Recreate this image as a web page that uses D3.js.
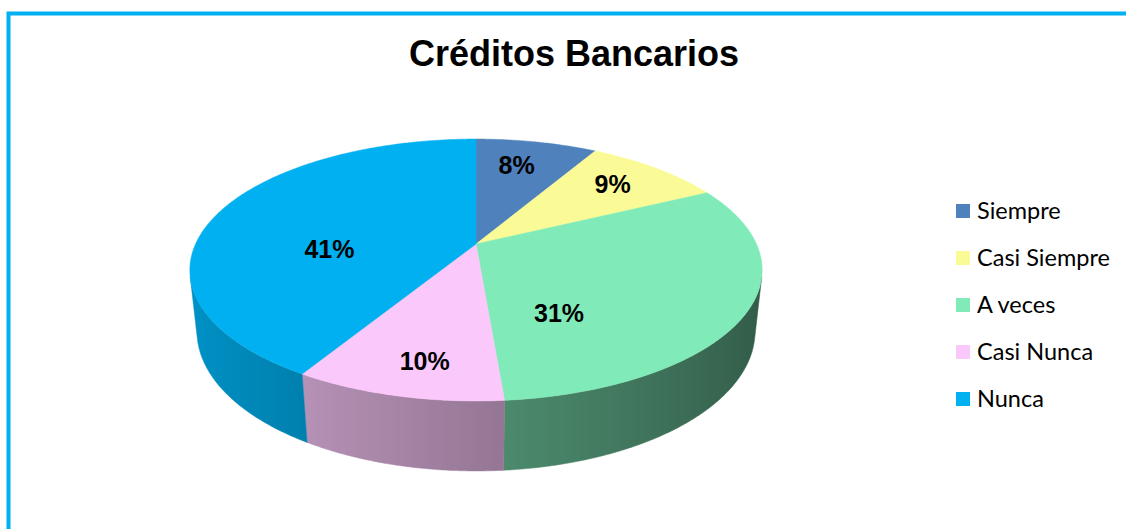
<!DOCTYPE html>
<html lang="es">
<head>
<meta charset="utf-8" />
<title>Créditos Bancarios</title>
<script src="https://cdn.jsdelivr.net/npm/d3@7"></script>
<style>
  body { margin:0; background:#fff; }
  svg { display:block; }
  .title { font-family:"Liberation Sans", Arial, sans-serif; font-weight:bold; font-size:36px; }
  .pct { font-family:"Liberation Sans", Arial, sans-serif; font-weight:bold; font-size:25px; }
  .legend text { font-family:Lato, "Open Sans", sans-serif; font-size:23.5px; fill:#000; }
</style>
</head>
<body>
<div id="chart"></div>
<script>
var categories = ["Siempre", "Casi Siempre", "A veces", "Casi Nunca", "Nunca"];
var shares = [8.3, 9.4, 31.0, 9.9, 41.4];
var colors = ["#4F81BD", "#FAFA96", "#80EAB8", "#FAC8FA", "#00B0F0"];
// where Excel put the % labels: shift from mid angle (deg), radius fraction
var labelNudge = [[-2, 0.74], [-1, 0.75], [32, 0.56], [-2, 0.8], [-20, 0.52]];

var width = 1126, height = 529;

var svg = d3.select("#chart").append("svg")
    .attr("width", width)
    .attr("height", height);
var defs = svg.append("defs");

// frame
svg.append("path")
    .attr("d", "M8.5," + height + "V13.5H" + width)
    .attr("fill", "none")
    .attr("stroke", "#00B0F0")
    .attr("stroke-width", 4);

svg.append("text")
    .attr("class", "title")
    .attr("x", 574)
    .attr("y", 66)
    .attr("text-anchor", "middle")
    .text("Créditos Bancarios");

// simple perspective camera looking down on the disc
var s = 0.4485, c = Math.sqrt(1 - s * s);
var D = 4.5, H = 0.246;
var x = d3.scaleLinear().domain([0, 1]).range([476, 476 + 1262]);
var y = d3.scaleLinear().domain([0, 1]).range([244, 244 - 1262]);

function proj(u, v, h) {
  var zc = D + v * c - h * s;
  return [x(u / zc), y((v * s + h * c) / zc)];
}
function rim(a, h, r) {
  r = r == null ? 1 : r;
  return proj(r * Math.sin(a), r * Math.cos(a), h);
}
function shade(col, a) {
  var f = 0.61 - 0.23 * Math.sin(a);
  var k = d3.rgb(col);
  return d3.rgb(k.r * f, k.g * f, k.b * f).toString();
}

var total = d3.sum(shares);
var pie = d3.pie().sort(null).value(function(d) { return d; });
var arcs = pie(shares);

var line = d3.line();
var phiMin = Math.acos(-1 / (D * c)), phiMax = 2 * Math.PI - phiMin;
var step = Math.PI / 360;

// side walls first, each with a left-right light gradient
var sides = svg.append("g");
arcs.forEach(function(d, i) {
  var lo = Math.max(d.startAngle, phiMin), hi = Math.min(d.endAngle, phiMax);
  if (lo >= hi) return;
  var n = Math.ceil((hi - lo) / step);
  var topPts = [], botPts = [], angs = [];
  for (var k = 0; k <= n; k++) {
    var a = lo + (hi - lo) * k / n;
    angs.push(a);
    topPts.push(rim(a, 0));
    botPts.push(rim(a, -H));
  }
  var xs = topPts.map(function(p) { return p[0]; });
  var x0 = d3.min(xs), x1 = d3.max(xs);
  var g = defs.append("linearGradient")
      .attr("id", "side" + i)
      .attr("gradientUnits", "userSpaceOnUse")
      .attr("x1", x0).attr("x2", x1)
      .attr("y1", 0).attr("y2", 0);
  var stops = angs.map(function(a, k) {
    return { off: x1 > x0 ? (xs[k] - x0) / (x1 - x0) : 0, col: shade(colors[i], a) };
  }).sort(function(p, q) { return p.off - q.off; });
  stops.forEach(function(st) {
    g.append("stop").attr("offset", st.off).attr("stop-color", st.col);
  });
  sides.append("path")
      .attr("d", line(topPts.concat(botPts.reverse())) + "Z")
      .attr("fill", "url(#side" + i + ")")
      .attr("stroke", "url(#side" + i + ")")
      .attr("stroke-width", 0.5);
});

// top faces
var tops = svg.append("g");
arcs.forEach(function(d, i) {
  var pts = [proj(0, 0, 0)];
  var n = Math.max(2, Math.ceil((d.endAngle - d.startAngle) / step));
  for (var k = 0; k <= n; k++) {
    pts.push(rim(d.startAngle + (d.endAngle - d.startAngle) * k / n, 0));
  }
  tops.append("path")
      .attr("d", line(pts) + "Z")
      .attr("fill", colors[i])
      .attr("stroke", colors[i])
      .attr("stroke-width", 0.5);
});

// percentage labels
svg.append("g").selectAll("text")
    .data(arcs)
    .join("text")
    .attr("class", "pct")
    .attr("text-anchor", "middle")
    .attr("dy", "0.36em")
    .attr("transform", function(d, i) {
      var a = (d.startAngle + d.endAngle) / 2 + labelNudge[i][0] * Math.PI / 180;
      var p = rim(a, 0, labelNudge[i][1]);
      return "translate(" + p[0] + "," + p[1] + ")";
    })
    .text(function(d) { return Math.round(d.value / total * 100) + "%"; });

// legend
var legend = svg.append("g").attr("class", "legend")
    .attr("transform", "translate(956,211)");
var row = legend.selectAll("g")
    .data(categories)
    .join("g")
    .attr("transform", function(d, i) { return "translate(0," + i * 47 + ")"; });
row.append("rect")
    .attr("y", -7)
    .attr("width", 14)
    .attr("height", 14)
    .attr("fill", function(d, i) { return colors[i]; });
row.append("text")
    .attr("x", 21)
    .attr("dy", "0.36em")
    .text(function(d) { return d; });
</script>
</body>
</html>
